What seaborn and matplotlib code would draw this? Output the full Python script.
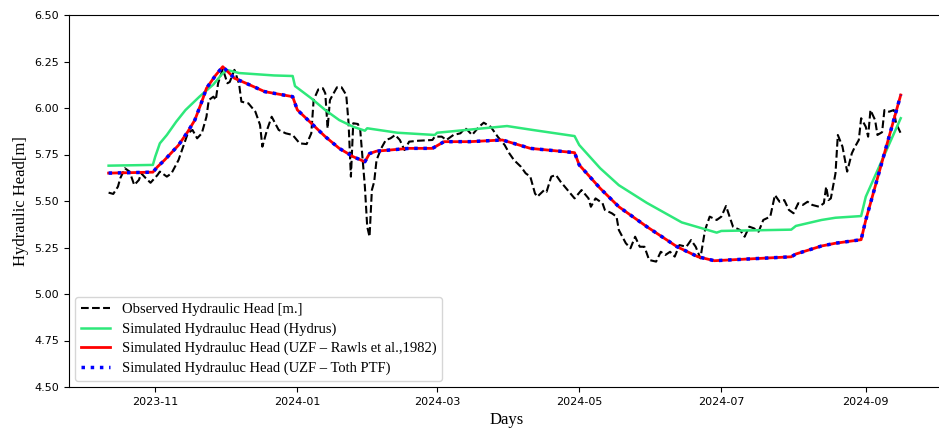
import matplotlib
matplotlib.use("Agg")
import matplotlib.pyplot as plt
import matplotlib.dates as mdates
from matplotlib.ticker import FormatStrFormatter
from matplotlib.font_manager import FontProperties
import pandas as pd
import seaborn as sns

# Observed piezometer record
obs_dates = [
    "2023-10-12", "2023-10-14", "2023-10-16", "2023-10-17", "2023-10-19", "2023-10-21",
    "2023-10-23", "2023-10-25", "2023-10-26", "2023-10-28", "2023-10-30", "2023-11-02",
    "2023-11-03", "2023-11-06", "2023-11-08", "2023-11-11", "2023-11-13", "2023-11-15",
    "2023-11-17", "2023-11-19", "2023-11-21", "2023-11-23", "2023-11-24", "2023-11-26",
    "2023-11-27", "2023-11-28", "2023-11-30", "2023-12-02", "2023-12-03", "2023-12-05",
    "2023-12-07", "2023-12-08", "2023-12-11", "2023-12-14", "2023-12-16", "2023-12-17",
    "2023-12-19", "2023-12-21", "2023-12-24", "2023-12-27", "2023-12-30", "2024-01-02",
    "2024-01-05", "2024-01-07", "2024-01-08", "2024-01-10", "2024-01-12", "2024-01-13",
    "2024-01-14", "2024-01-15", "2024-01-18", "2024-01-20", "2024-01-22", "2024-01-23",
    "2024-01-24", "2024-01-25", "2024-01-27", "2024-01-28", "2024-01-30", "2024-01-31",
    "2024-02-01", "2024-02-02", "2024-02-03", "2024-02-04", "2024-02-06", "2024-02-08",
    "2024-02-10", "2024-02-12", "2024-02-14", "2024-02-16", "2024-02-18", "2024-02-22",
    "2024-02-28", "2024-02-29", "2024-03-03", "2024-03-05", "2024-03-08", "2024-03-11",
    "2024-03-13", "2024-03-14", "2024-03-16", "2024-03-19", "2024-03-21", "2024-03-24",
    "2024-03-26", "2024-03-27", "2024-03-30", "2024-04-01", "2024-04-03", "2024-04-06",
    "2024-04-08", "2024-04-10", "2024-04-12", "2024-04-13", "2024-04-16", "2024-04-17",
    "2024-04-19", "2024-04-21", "2024-04-23", "2024-04-26", "2024-04-29", "2024-05-02",
    "2024-05-05", "2024-05-06", "2024-05-08", "2024-05-11", "2024-05-12", "2024-05-15",
    "2024-05-17", "2024-05-18", "2024-05-21", "2024-05-23", "2024-05-25", "2024-05-27",
    "2024-05-29", "2024-05-31", "2024-06-03", "2024-06-05", "2024-06-07", "2024-06-09",
    "2024-06-11", "2024-06-13", "2024-06-16", "2024-06-18", "2024-06-20", "2024-06-22",
    "2024-06-24", "2024-06-26", "2024-06-29", "2024-07-01", "2024-07-03", "2024-07-05",
    "2024-07-06", "2024-07-09", "2024-07-11", "2024-07-13", "2024-07-15", "2024-07-17",
    "2024-07-19", "2024-07-22", "2024-07-24", "2024-07-26", "2024-07-28", "2024-07-30",
    "2024-08-01", "2024-08-03", "2024-08-05", "2024-08-07", "2024-08-09", "2024-08-12",
    "2024-08-14", "2024-08-15", "2024-08-16", "2024-08-17", "2024-08-19", "2024-08-20",
    "2024-08-22", "2024-08-24", "2024-08-26", "2024-08-27", "2024-08-29", "2024-08-30",
    "2024-09-01", "2024-09-02", "2024-09-03", "2024-09-05", "2024-09-06", "2024-09-08",
    "2024-09-09", "2024-09-11", "2024-09-13", "2024-09-14", "2024-09-16",
]
obs_head = [
    5.545, 5.538, 5.577, 5.622, 5.676, 5.658,
    5.586, 5.613, 5.649, 5.622, 5.598, 5.640,
    5.658, 5.631, 5.649, 5.720, 5.792, 5.864,
    5.882, 5.837, 5.864, 5.953, 6.043, 6.061,
    6.043, 6.133, 6.210, 6.133, 6.140, 6.205,
    6.130, 6.034, 6.025, 5.980, 5.909, 5.792,
    5.882, 5.953, 5.882, 5.864, 5.855, 5.810,
    5.806, 5.864, 6.043, 6.100, 6.106, 6.079,
    5.891, 6.043, 6.111, 6.111, 6.070, 5.918,
    5.631, 5.918, 5.914, 5.882, 5.577, 5.362,
    5.308, 5.559, 5.604, 5.720, 5.783, 5.828,
    5.837, 5.855, 5.828, 5.774, 5.819, 5.824,
    5.828, 5.846, 5.846, 5.828, 5.855, 5.864,
    5.891, 5.882, 5.855, 5.899, 5.921, 5.899,
    5.864, 5.846, 5.801, 5.756, 5.720, 5.684,
    5.649, 5.631, 5.541, 5.523, 5.559, 5.550,
    5.631, 5.640, 5.604, 5.559, 5.514, 5.559,
    5.514, 5.469, 5.514, 5.488, 5.452, 5.434,
    5.416, 5.344, 5.273, 5.246, 5.308, 5.254,
    5.254, 5.183, 5.174, 5.227, 5.210, 5.227,
    5.201, 5.263, 5.254, 5.290, 5.254, 5.192,
    5.344, 5.416, 5.398, 5.416, 5.473, 5.398,
    5.362, 5.344, 5.308, 5.362, 5.353, 5.335,
    5.398, 5.416, 5.532, 5.496, 5.505, 5.452,
    5.434, 5.488, 5.479, 5.496, 5.479, 5.469,
    5.488, 5.577, 5.505, 5.514, 5.649, 5.855,
    5.792, 5.658, 5.756, 5.783, 5.828, 5.945,
    5.899, 5.846, 5.989, 5.935, 5.855, 5.870,
    5.989, 5.980, 5.989, 5.918, 5.864,
]

# Hydrus simulation
hydrus_dates = [
    "2023-10-12", "2023-10-31", "2023-11-01", "2023-11-03", "2023-11-06", "2023-11-10",
    "2023-11-14", "2023-11-20", "2023-11-26", "2023-11-30", "2023-12-02", "2023-12-07",
    "2023-12-22", "2023-12-30", "2023-12-31", "2024-01-07", "2024-01-13", "2024-01-19",
    "2024-01-25", "2024-01-30", "2024-01-31", "2024-02-13", "2024-02-29", "2024-03-01",
    "2024-03-31", "2024-04-11", "2024-04-29", "2024-05-01", "2024-05-10", "2024-05-18",
    "2024-05-30", "2024-06-14", "2024-06-29", "2024-07-01", "2024-07-31", "2024-08-02",
    "2024-08-13", "2024-08-19", "2024-08-30", "2024-09-01", "2024-09-16",
]
hydrus_head = [
    5.690, 5.694, 5.738, 5.810, 5.855, 5.926,
    5.989, 6.061, 6.127, 6.187, 6.204, 6.188,
    6.175, 6.172, 6.118, 6.052, 5.989, 5.935,
    5.899, 5.878, 5.891, 5.867, 5.855, 5.867,
    5.903, 5.882, 5.849, 5.801, 5.676, 5.585,
    5.490, 5.385, 5.330, 5.339, 5.346, 5.366,
    5.398, 5.410, 5.419, 5.523, 5.945,
]

# UZF simulations (two pedotransfer functions)
uzf_dates = [
    "2023-10-12", "2023-10-31", "2023-11-02", "2023-11-05", "2023-11-11", "2023-11-15",
    "2023-11-18", "2023-11-21", "2023-11-23", "2023-11-27", "2023-11-30", "2023-12-05",
    "2023-12-10", "2023-12-18", "2023-12-30", "2024-01-01", "2024-01-07", "2024-01-13",
    "2024-01-19", "2024-01-25", "2024-01-30", "2024-02-01", "2024-02-04", "2024-02-18",
    "2024-02-28", "2024-03-04", "2024-03-15", "2024-03-29", "2024-04-10", "2024-04-29",
    "2024-05-01", "2024-05-10", "2024-05-18", "2024-05-30", "2024-06-12", "2024-06-21",
    "2024-06-28", "2024-07-31", "2024-08-02", "2024-08-13", "2024-08-19", "2024-08-30",
    "2024-09-01", "2024-09-16",
]
rawls_head = [
    5.650, 5.655, 5.684, 5.720, 5.800, 5.873,
    5.935, 6.034, 6.106, 6.177, 6.222, 6.160,
    6.133, 6.088, 6.061, 5.990, 5.918, 5.846,
    5.783, 5.738, 5.711, 5.755, 5.768, 5.783,
    5.783, 5.819, 5.819, 5.828, 5.783, 5.760,
    5.694, 5.568, 5.469, 5.362, 5.254, 5.200,
    5.179, 5.200, 5.215, 5.258, 5.273, 5.292,
    5.398, 6.070,
]
toth_head = [
    5.650, 5.655, 5.684, 5.720, 5.800, 5.873,
    5.935, 6.034, 6.106, 6.177, 6.222, 6.160,
    6.133, 6.088, 6.061, 5.990, 5.918, 5.846,
    5.783, 5.738, 5.711, 5.755, 5.768, 5.783,
    5.783, 5.819, 5.819, 5.828, 5.783, 5.760,
    5.694, 5.568, 5.469, 5.362, 5.254, 5.200,
    5.179, 5.200, 5.215, 5.258, 5.273, 5.292,
    5.398, 6.070,
]

series_labels = [
    "Observed Hydraulic Head [m.]",
    "Simulated Hydrauluc Head (Hydrus)",
    "Simulated Hydrauluc Head (UZF \u2013 Rawls et al.,1982)",
    "Simulated Hydrauluc Head (UZF \u2013 Toth PTF)",
]
y_ticks = [4.50, 4.75, 5.00, 5.25, 5.50, 5.75, 6.00, 6.25, 6.50]


def frame(dates, head):
    return pd.DataFrame({"date": pd.to_datetime(dates), "head": head})


serif = "Liberation Serif"

fig = plt.figure(figsize=(9.39, 4.28), dpi=100)
# the right edge of the axes runs just past the canvas
ax = fig.add_axes([69 / 939, 1 - 387 / 428, 876 / 939, 372 / 428])

sns.lineplot(data=frame(obs_dates, obs_head), x="date", y="head", ax=ax,
             color="black", linestyle="--", linewidth=1.5, estimator=None,
             label=series_labels[0])
sns.lineplot(data=frame(hydrus_dates, hydrus_head), x="date", y="head", ax=ax,
             color="#2ee87a", linewidth=1.8, estimator=None,
             label=series_labels[1])
sns.lineplot(data=frame(uzf_dates, rawls_head), x="date", y="head", ax=ax,
             color="red", linewidth=2.0, estimator=None,
             label=series_labels[2])
sns.lineplot(data=frame(uzf_dates, toth_head), x="date", y="head", ax=ax,
             color="blue", linestyle=":", linewidth=2.5, estimator=None,
             label=series_labels[3])

ax.set_xlim(pd.Timestamp("2023-09-25"), pd.Timestamp("2024-10-05"))
ax.set_ylim(4.5, 6.5)
ax.set_yticks(y_ticks)
ax.yaxis.set_major_formatter(FormatStrFormatter("%.2f"))
ax.xaxis.set_major_locator(mdates.MonthLocator(bymonth=[1, 3, 5, 7, 9, 11]))
ax.xaxis.set_major_formatter(mdates.DateFormatter("%Y-%m"))
ax.tick_params(labelsize=8)

ax.set_xlabel("Days", fontfamily=serif, fontsize=12)
ax.set_ylabel("Hydraulic Head[m]", fontfamily=serif, fontsize=12)

ax.legend(loc="lower left", prop=FontProperties(family=serif, size=10.5),
          labelspacing=0.42, borderpad=0.4, borderaxespad=0.42)

fig.savefig("out.png", dpi=100)
